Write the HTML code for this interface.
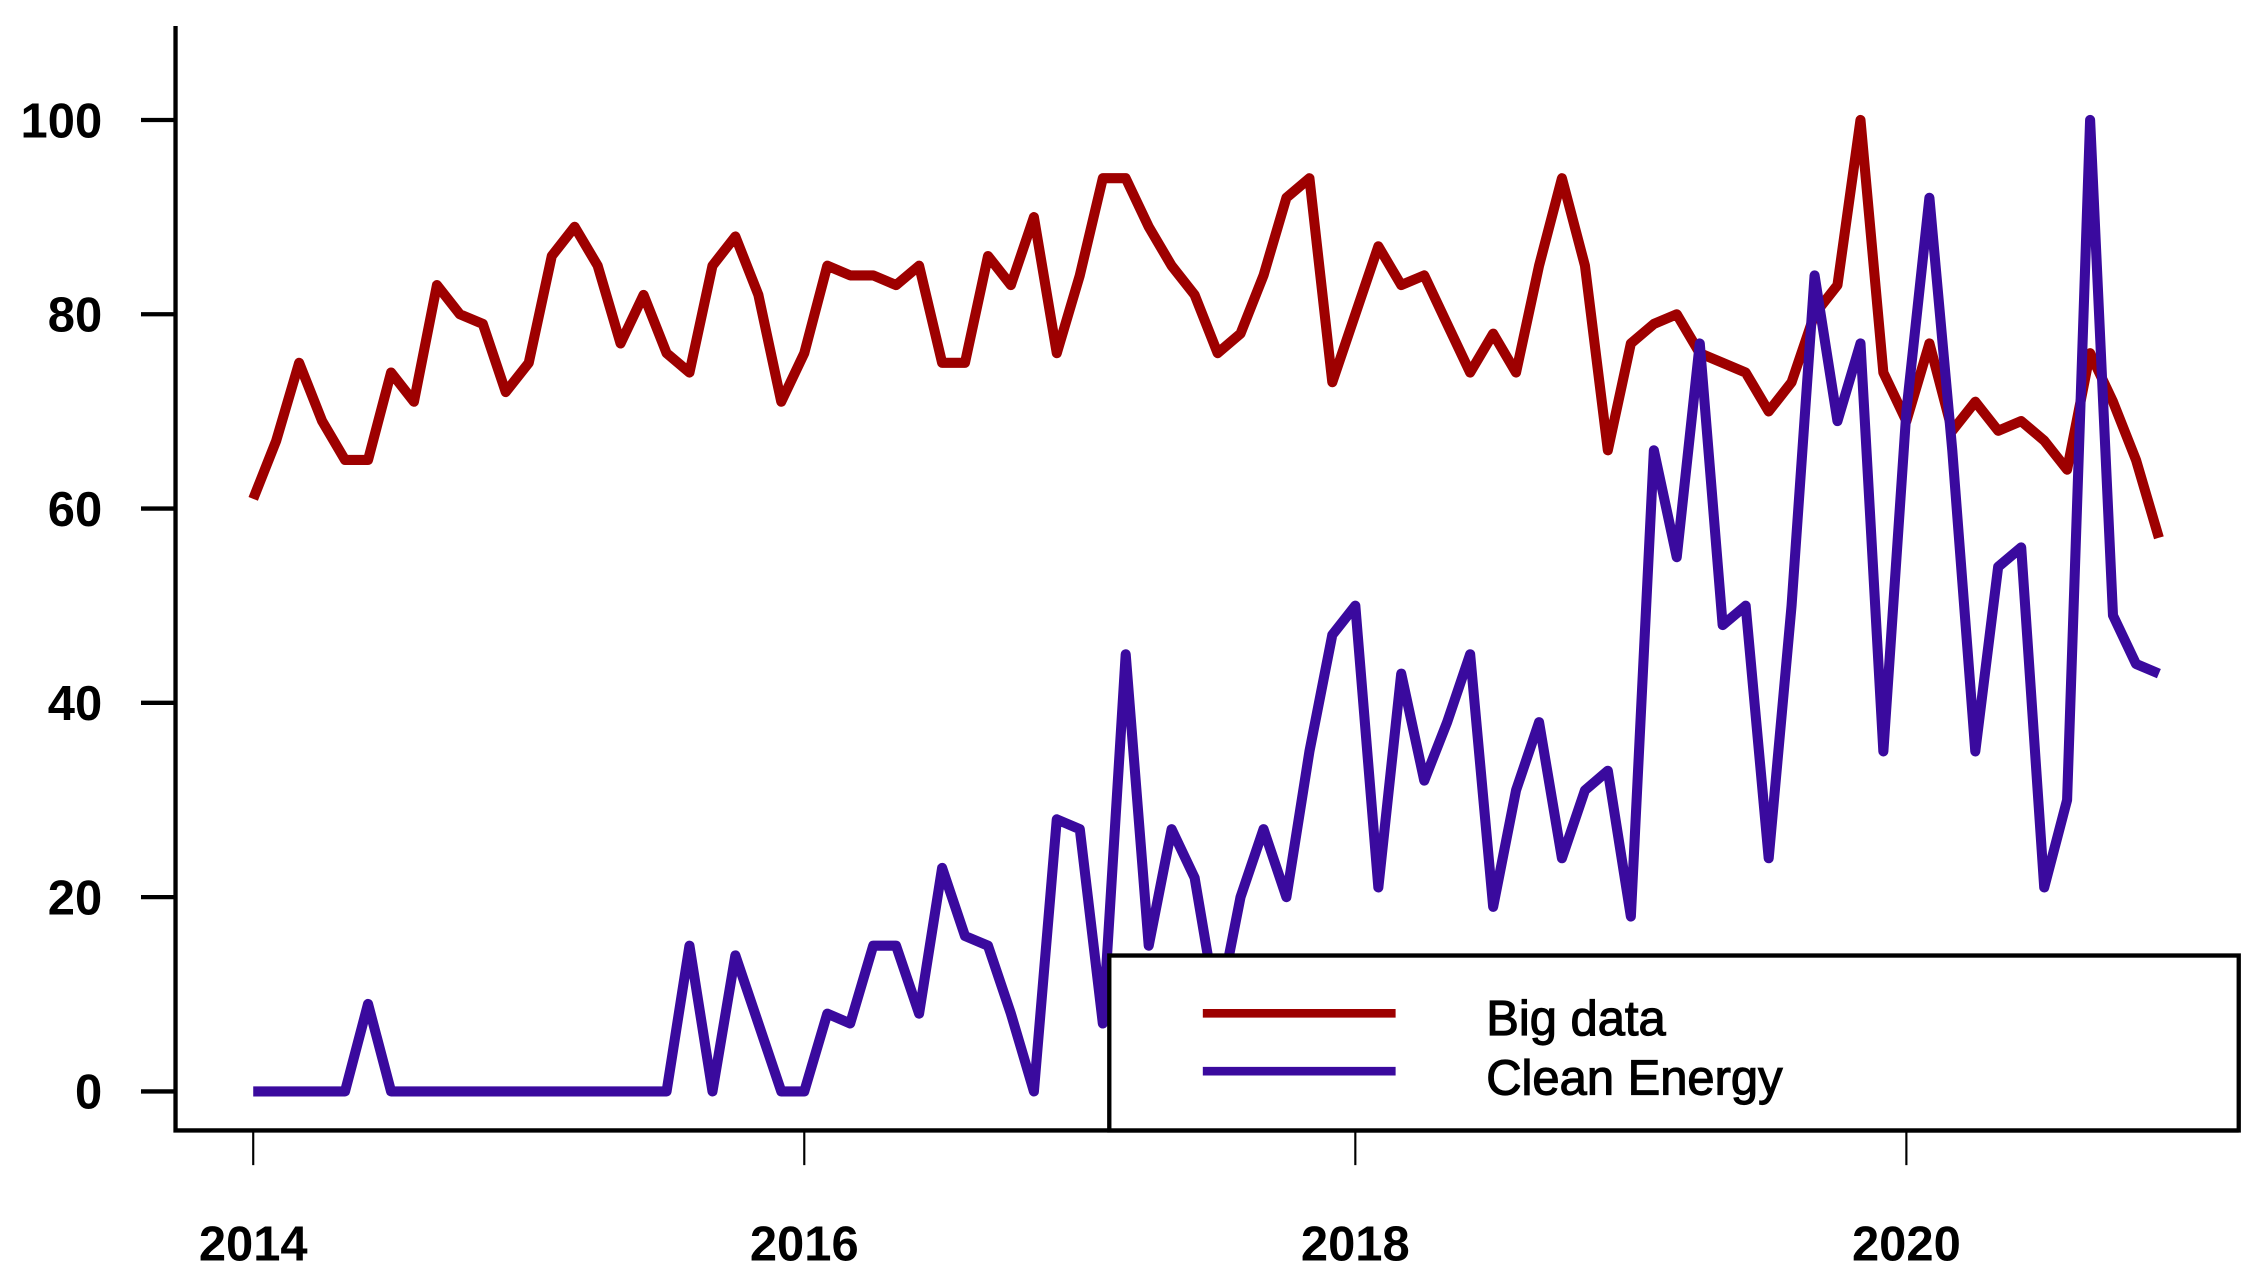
<!DOCTYPE html>
<html><head><meta charset="utf-8"><style>
html,body{margin:0;padding:0;background:#fff;}
svg{display:block;}
text{font-family:"Liberation Sans",Arial,sans-serif;fill:#000;}
</style></head><body>
<svg id="chart" width="2256" height="1275" viewBox="0 0 1568 882" preserveAspectRatio="none" xmlns="http://www.w3.org/2000/svg">
<g id="axes"></g>
<g id="series"></g>
<g id="legend">
  <rect x="771" y="661" width="785" height="121" fill="#fff" stroke="#000" stroke-width="3"/>
  <line x1="836" y1="701" x2="970" y2="701" stroke="#9e0000" stroke-width="6"/>
  <line x1="836" y1="741" x2="970" y2="741" stroke="#3a0a9e" stroke-width="6"/>
  <text x="1033" y="716" font-size="34" stroke="#000" stroke-width="0.8">Big data</text>
  <text x="1033" y="757" font-size="34" stroke="#000" stroke-width="0.8">Clean Energy</text>
</g>
</svg>
<script>
const bigData = [61,67,75,69,65,65,74,71,83,80,79,72,
 75,86,89,85,77,82,76,74,85,88,82,71,
 76,85,84,84,83,85,75,75,86,83,90,76,
 84,94,94,89,85,82,76,78,84,92,94,73,
 80,87,83,84,79,74,78,74,85,94,85,66,
 77,79,80,76,75,74,70,73,80,83,100,74,
 69,77,68,71,68,69,67,64,76,71,65,57];
const cleanEnergy = [0,0,0,0,0,9,0,0,0,0,0,0,
 0,0,0,0,0,0,0,15,0,14,7,0,
 0,8,7,15,15,8,23,16,15,8,0,28,
 27,7,45,15,27,22,8,20,27,20,35,47,
 50,21,43,32,38,45,19,31,38,24,31,33,
 18,66,55,77,48,50,24,50,84,69,77,35,
 70,92,66,35,54,56,21,30,100,49,44,43];
const yTicks = [0,20,40,60,80,100];
const xTicks = [2014,2016,2018,2020];

const NS = "http://www.w3.org/2000/svg";
function xScale(year){ return 176 + (year-2014)*191.5; }
function yScale(v){ return 755 - v*6.72; }
function monthX(i){ return xScale(2014 + i/12); }
function mk(tag, attrs, parent){ const e=document.createElementNS(NS,tag); for(const k in attrs) e.setAttribute(k,attrs[k]); parent.appendChild(e); return e; }

const axes = document.getElementById('axes');
let l = mk('polyline',{points:"122,18 122,782 1556,782",fill:"none",stroke:"#000","stroke-width":3},axes);


yTicks.forEach(v=>{
  const t = mk('line',{x1:98,x2:122,y1:yScale(v),y2:yScale(v),stroke:"#000","stroke-width":3},axes);
  
  
  const tx = mk('text',{x:71,y:yScale(v)+12,"text-anchor":"end","font-size":34,"font-weight":"bold"},axes);
  
  
  tx.textContent = v;
});
xTicks.forEach(v=>{
  const t = mk('line',{x1:xScale(v),x2:xScale(v),y1:782,y2:806,stroke:"#000","stroke-width":1.5},axes);
  
  
  const tx = mk('text',{x:xScale(v),y:872,"text-anchor":"middle","font-size":34,"font-weight":"bold"},axes);
  
  
  tx.textContent = v;
});

const series = document.getElementById('series');
function drawLine(data, color, name){
  const pts = data.map((v,i)=>monthX(i).toFixed(1)+","+yScale(v).toFixed(1)).join(" ");
  const p = mk('polyline',{points:pts,fill:"none",stroke:color,"stroke-width":7,"stroke-linejoin":"round"},series);
  
  
}
drawLine(bigData,"#9e0000","big-data-line");
drawLine(cleanEnergy,"#3a0a9e","clean-energy-line");
</script>
</body></html>
